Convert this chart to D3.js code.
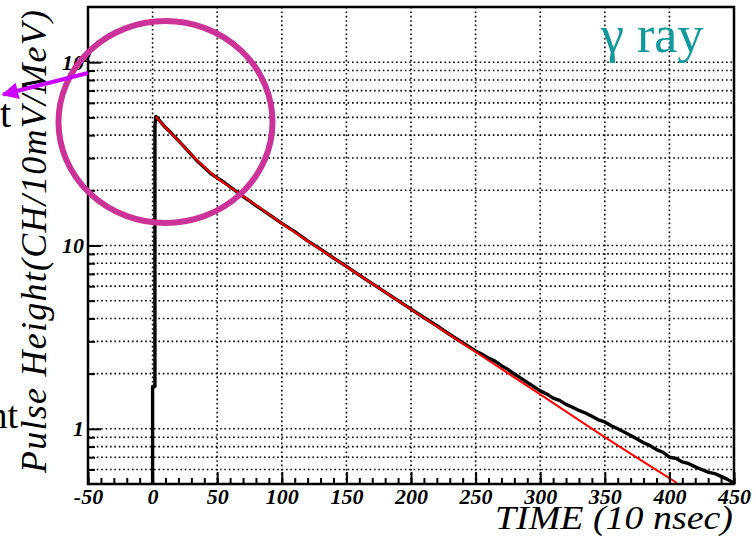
<!DOCTYPE html>
<html><head><meta charset="utf-8">
<script src="https://cdn.jsdelivr.net/npm/d3@7"></script>
<style>body{margin:0;background:#fff}svg{display:block}</style>
</head><body><svg id="c" width="753" height="540"></svg>
<script>
// ---- data ----
const xTickValues = [-50,0,50,100,150,200,250,300,350,400,450];
const xTickLabels = ["-50","0","50","100","150","200","250","300","350","400","450"];
const yTickValues = [1,10,100];
const yTickLabels = ["1","10","10"];
const yTickSup    = ["","","2"];

// measured pulse (black histogram)
const blackT = [0,0,1.8,1.8,2.5,3,6,10,14,20,25,30,35,40,45,50,55,60,65,70,75,80,90,100,110,120,130,140,150,160,170,180,190,200,210,220,230,240,
  250,255,260,265,270,275,280,285,290,295,300,305,310,315,320,325,330,335,340,345,350,355,360,365,370,375,380,385,390,395,400,405,410,415,420,425,430,435,440,445,450];
const blackV = [0.3,1.7,1.7,45,50.5,50.3,47.4,44.0,41.3,37.3,34.2,31.3,28.7,26.6,24.7,23.4,22.2,20.9,19.7,18.5,17.5,16.5,14.8,13.2,11.9,10.6,9.55,8.55,7.7,6.9,6.2,5.57,5.0,4.5,4.05,3.65,3.27,2.95,
  2.66,2.55,2.43,2.34,2.21,2.11,1.99,1.89,1.79,1.70,1.61,1.55,1.47,1.43,1.36,1.31,1.26,1.22,1.17,1.12,1.09,1.04,1.00,0.96,0.92,0.88,0.84,0.81,0.77,0.745,0.70,0.69,0.66,0.645,0.62,0.60,0.58,0.57,0.55,0.53,0.505];

// fitted curve (red)
const redT = [2.5,5,10,15,20,25,30,35,40,45,50,60,70,80,90,100,150,200,250,300,350,405.6];
const redV = [50.5,48.1,44.0,40.5,37.2,34.2,31.4,28.9,26.8,24.9,23.3,20.8,18.6,16.6,14.8,13.2,7.67,4.49,2.63,1.54,0.90,0.508];

const yMinorValues = [0.6,0.7,0.8,0.9,2,3,4,5,6,7,8,9,20,30,40,50,60,70,80,90];
const xMinorValues = d3.range(-50,451,10);

const yTitle = "Pulse Height(CH/10mV/MeV)";
const xTitle = "TIME (10 nsec)";
const tagText = "γ ray";
const leftText = "component";

// ---- drawing ----
const svg = d3.select("#c");
const L=88, R=734, T=7, B=484;
const x = d3.scaleLinear().domain([-50,450]).range([L,R]);
const y = d3.scaleLog().domain([0.5,200]).range([B,T]);

const defs = svg.append("defs");
defs.append("clipPath").attr("id","clip")
  .append("rect").attr("x",L).attr("y",T).attr("width",R-L).attr("height",B-T);

// grid
const grid = svg.append("g").attr("stroke","#000").attr("stroke-width",1.6).attr("stroke-dasharray","1.6,2.8");
grid.selectAll("line.gx").data(xTickValues.filter(v=>v>-50 && v<450)).join("line")
  .attr("x1",d=>x(d)).attr("x2",d=>x(d)).attr("y1",T).attr("y2",B);
grid.selectAll("line.gy").data(yTickValues.concat(yMinorValues)).join("line")
  .attr("x1",L).attr("x2",R).attr("y1",d=>y(d)).attr("y2",d=>y(d));

// data
const pts = (ts,vs)=>ts.map((t,i)=>[t,vs[i]]);
const plot = svg.append("g").attr("clip-path","url(#clip)");
plot.append("path").datum(pts(blackT,blackV))
  .attr("fill","none").attr("stroke","#000").attr("stroke-width",3.4).attr("stroke-linejoin","round")
  .attr("d", d3.line().x(d=>x(d[0])).y(d=>y(d[1])));
plot.append("path").datum(pts(redT,redV))
  .attr("fill","none").attr("stroke","#ff0000").attr("stroke-width",2)
  .attr("d", d3.line().x(d=>x(d[0])).y(d=>y(d[1])).curve(d3.curveMonotoneX));

// axes
const fontTick = "'Liberation Serif', 'Times New Roman', serif";
const gxMinor = svg.append("g").attr("transform",`translate(0,${B})`)
  .call(d3.axisBottom(x).tickValues(xMinorValues).tickSizeInner(-6).tickSizeOuter(0).tickFormat(""));
const gx = svg.append("g").attr("transform",`translate(0,${B})`)
  .call(d3.axisBottom(x).tickValues(xTickValues).tickSizeInner(-12).tickSizeOuter(0).tickPadding(4)
        .tickFormat((d,i)=>xTickLabels[i]));
const gyMinor = svg.append("g").attr("transform",`translate(${L},0)`)
  .call(d3.axisLeft(y).tickValues(yMinorValues).tickSizeInner(-7).tickSizeOuter(0).tickFormat(""));
const gy = svg.append("g").attr("transform",`translate(${L},0)`)
  .call(d3.axisLeft(y).tickValues(yTickValues).tickSizeInner(-13).tickSizeOuter(0).tickPadding(4)
        .tickFormat((d,i)=>yTickLabels[i]));
[gxMinor,gx,gyMinor,gy].forEach(g=>{
  g.select(".domain").remove();
  g.selectAll(".tick line").attr("stroke","#000").attr("stroke-width",2);
  g.selectAll("text").attr("font-family",fontTick).attr("font-size",22)
   .attr("font-style","italic").attr("font-weight","bold").attr("fill","#000");
});
gy.selectAll(".tick text").each(function(d,i){
  if(yTickSup[i]){
    const t=d3.select(this);
    t.attr("text-anchor","start").attr("x",-26);
    t.append("tspan").attr("font-size",14).attr("dy","-0.55em").text(yTickSup[i]);
  }
});

// frame
svg.append("rect").attr("x",L).attr("y",T).attr("width",R-L).attr("height",B-T)
  .attr("fill","none").attr("stroke","#000").attr("stroke-width",2.5);

// titles
svg.append("text").attr("transform",`translate(46,473) rotate(-90)`)
  .attr("font-family",fontTick).attr("font-style","italic").attr("font-size",36)
  .attr("textLength",463).attr("lengthAdjust","spacing").text(yTitle);
svg.append("text").attr("x",733).attr("y",529).attr("text-anchor","end")
  .attr("font-family",fontTick).attr("font-style","italic").attr("font-size",34)
  .attr("textLength",238).attr("lengthAdjust","spacingAndGlyphs").text(xTitle);

// tag
svg.append("text").attr("x",601).attr("y",52).attr("fill","#119a9a")
  .attr("font-family",fontTick).attr("font-size",52).text(tagText);

// annotations
svg.append("ellipse").attr("cx",165.5).attr("cy",122).attr("rx",107).attr("ry",101)
  .attr("fill","none").attr("stroke","#cc3399").attr("stroke-width",6);
defs.append("marker").attr("id","ah").attr("viewBox","0 0 10 10")
  .attr("refX",9).attr("refY",5).attr("markerWidth",4.8).attr("markerHeight",4.2)
  .attr("markerUnits","strokeWidth").attr("orient","auto")
  .append("path").attr("d","M0,0L10,5L0,10z").attr("fill","#cc00ff");
svg.append("line").attr("x1",88).attr("y1",73).attr("x2",3).attr("y2",94.5)
  .attr("stroke","#cc00ff").attr("stroke-width",4).attr("marker-end","url(#ah)");
svg.append("text").attr("x",11).attr("y",127).attr("text-anchor","end")
  .attr("font-family",fontTick).attr("font-size",40).text(leftText);
svg.append("text").attr("x",18).attr("y",428).attr("text-anchor","end")
  .attr("font-family",fontTick).attr("font-size",38).text(leftText);
</script></body></html>
